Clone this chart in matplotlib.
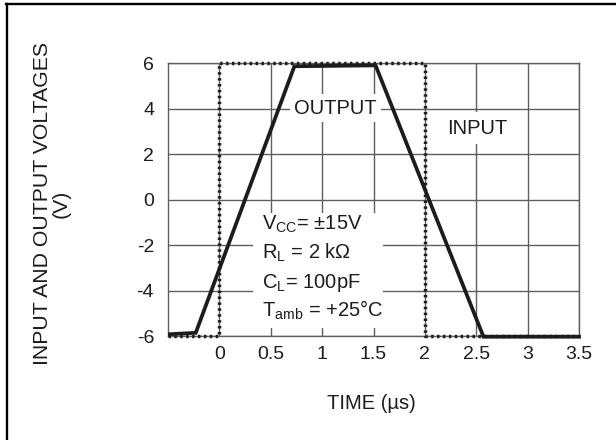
import matplotlib
matplotlib.use("Agg")
import matplotlib.pyplot as plt
from matplotlib.lines import Line2D
from matplotlib.patches import Rectangle

# --- data ---
input_t = [-0.5, 0.0, 0.0, 2.0, 2.0, 3.5]
input_v = [-6, -6, 6, 6, -6, -6]
output_t = [-0.48, -0.23, 0.73, 1.52, 2.57, 3.5]
output_v = [-5.92, -5.86, 5.87, 5.91, -6.03, -6.03]

x_ticks = [0, 0.5, 1, 1.5, 2, 2.5, 3, 3.5]
x_labels = ["0", "0.5", "1", "1.5", "2", "2.5", "3", "3.5"]
y_ticks = [-6, -4, -2, 0, 2, 4, 6]
y_labels = ["-6", "-4", "-2", "0", "2", "4", "6"]

cond_lines = [r"V$_{\mathregular{CC}}$= $\pm$15V",
              r"R$_{\mathregular{L}}$ = 2 k$\Omega$",
              r"C$_{\mathregular{L}}$= 100pF",
              r"T$_{\mathregular{amb}}$ = +25°C"]
cond_y = [-1.32, -2.6, -3.88, -5.15]

INK = "#1c1c1c"
GRID = "#5e5e5e"

plt.rcParams["font.family"] = ["Liberation Sans", "DejaVu Sans"]
plt.rcParams["mathtext.fontset"] = "custom"
plt.rcParams["mathtext.rm"] = "Liberation Sans"
plt.rcParams["mathtext.it"] = "Liberation Sans"
plt.rcParams["axes.unicode_minus"] = False

W, H = 616, 440
fig = plt.figure(figsize=(W / 100, H / 100), dpi=100)
ax = fig.add_axes([168 / W, 1 - 336 / H, (579 - 168) / W, (336 - 63.3) / H])

ax.set_xlim(-0.5, 3.5)
ax.set_ylim(-6, 6)
ax.set_xticks(x_ticks)
ax.set_xticklabels(x_labels)
ax.set_yticks(y_ticks)
ax.set_yticklabels(y_labels)
ax.tick_params(axis="both", length=0, labelsize=14, colors=INK)
ax.tick_params(axis="x", pad=7)
ax.tick_params(axis="y", pad=10)
ax.grid(True, color=GRID, linewidth=1.0, zorder=0)
ax.set_axisbelow(True)
for s in ax.spines.values():
    s.set_color(GRID)
    s.set_linewidth(1.0)

# white box behind the test conditions (it cuts the grid)
ax.add_patch(Rectangle((0.33, -5.65), 1.26, 5.05, facecolor="white",
                       edgecolor="none", zorder=1))

ax.plot(input_t, input_v, color=INK, linewidth=2.5, linestyle=(0, (0.7, 1.0)),
        zorder=3, clip_on=False)
ax.plot(output_t, output_v, color=INK, linewidth=2.7, solid_joinstyle="miter",
        zorder=4, clip_on=False)

ax.text(1.13, 4.03, "OUTPUT", fontsize=14.5, color=INK, ha="center", va="center",
        zorder=2, bbox=dict(boxstyle="square,pad=0.22", fc="white", ec="none"))
ax.text(2.51, 3.15, "INPUT", fontsize=14.5, color=INK, ha="center", va="center",
        zorder=2, bbox=dict(boxstyle="square,pad=0.33", fc="white", ec="none"))

for txt, yy in zip(cond_lines, cond_y):
    ax.text(0.41, yy, txt, fontsize=14.5, color=INK, ha="left", va="baseline",
            zorder=2)

fig.text(371 / W, 1 - 403 / H, "TIME (µs)", fontsize=14.5, color=INK,
         ha="center", va="center")
fig.text(52 / W, 1 - 203.5 / H, "INPUT AND OUTPUT VOLTAGES\n(V)", fontsize=15.3,
         color=INK, rotation=90, ha="center", va="center",
         multialignment="center", linespacing=1.0)

# frame of the original figure
fig.add_artist(Line2D([7.2 / W, 7.2 / W], [0, 1 - 4.5 / H], color="black",
                      linewidth=1.7, transform=fig.transFigure))
fig.add_artist(Line2D([6.4 / W, 1], [1 - 4.5 / H, 1 - 4.5 / H], color="black",
                      linewidth=1.7, transform=fig.transFigure))

fig.savefig("out.png", dpi=100, facecolor="white")
